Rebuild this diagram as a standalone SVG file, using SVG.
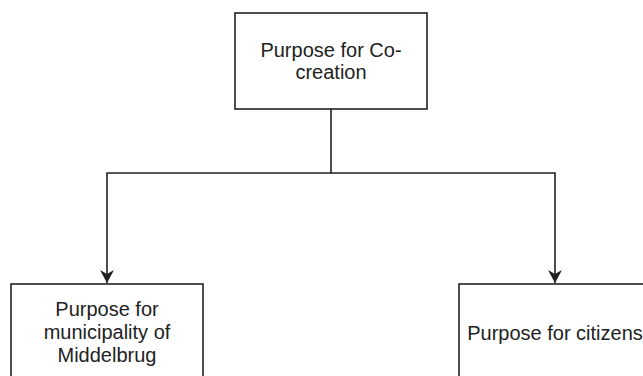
<svg xmlns="http://www.w3.org/2000/svg" width="643" height="376" viewBox="0 0 643 376">
  <style>
    .box { fill: #ffffff; stroke: #222222; stroke-width: 1.6; }
    .label { font-family: "Liberation Sans", Arial, sans-serif; font-size: 20px; fill: #222222; text-anchor: middle; }
    .edge { fill: none; stroke: #222222; stroke-width: 1.6; }
  </style>
  <defs>
    <marker id="arrow" markerUnits="userSpaceOnUse" markerWidth="16" markerHeight="16" refX="13" refY="7" orient="auto">
      <path d="M0,0 L13,7 L0,14 L4,7 Z" fill="#222222"/>
    </marker>
  </defs>

  <rect width="643" height="376" fill="#ffffff"/>

  <g id="connectors">
    <path class="edge" d="M331,109 V173 H107 V283" marker-end="url(#arrow)"/>
    <path class="edge" d="M331,173 H555 V283" marker-end="url(#arrow)"/>
  </g>

  <g id="node-cocreation">
    <rect class="box" x="235" y="13" width="192" height="96"/>
    <text class="label" x="331" y="57">Purpose for Co-</text>
    <text class="label" x="331" y="79">creation</text>
  </g>

  <g id="node-municipality">
    <rect class="box" x="11" y="284" width="192" height="96"/>
    <text class="label" x="107" y="316">Purpose for</text>
    <text class="label" x="107" y="339">municipality of</text>
    <text class="label" x="107" y="362">Middelbrug</text>
  </g>

  <g id="node-citizens">
    <rect class="box" x="459" y="284" width="192" height="96"/>
    <text class="label" x="555" y="340">Purpose for citizens</text>
  </g>
</svg>
